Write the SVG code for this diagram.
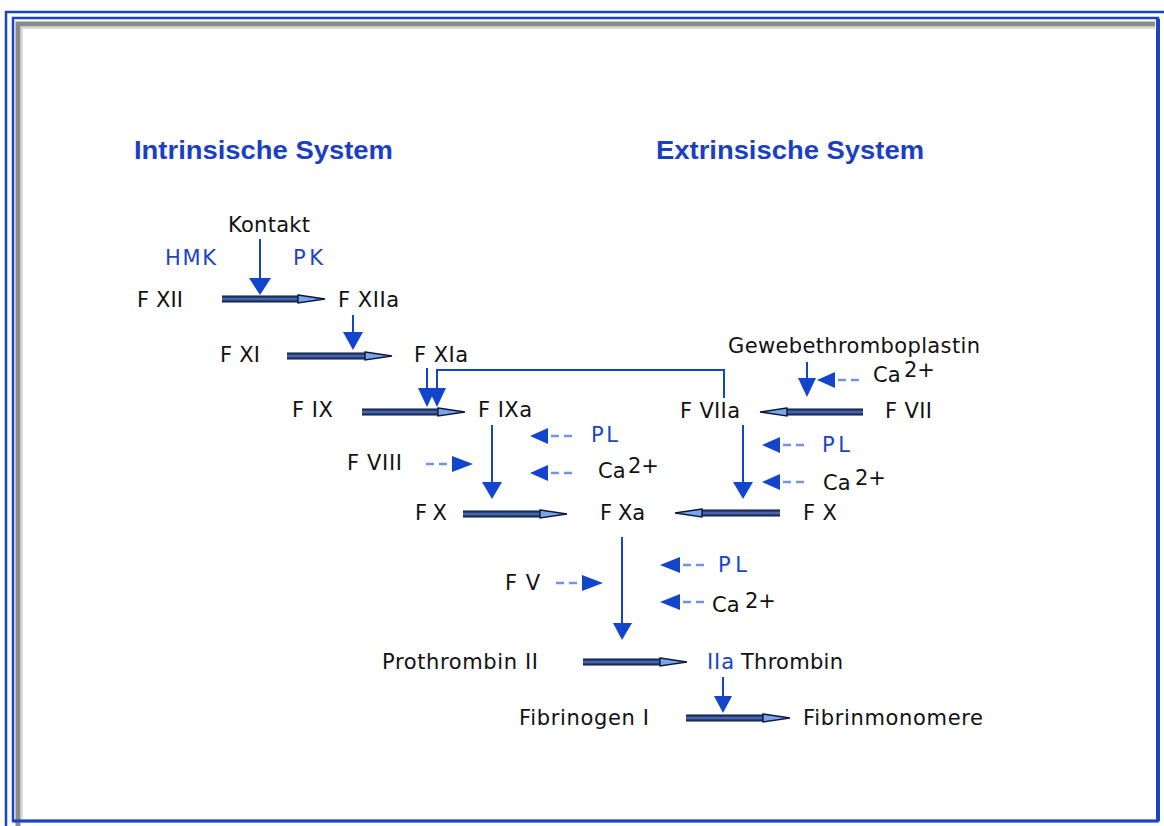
<svg xmlns="http://www.w3.org/2000/svg" width="1164" height="826" viewBox="0 0 1164 826">
<style>
.t{font-family:"DejaVu Sans",Verdana,sans-serif;font-size:21px;fill:#111;}
.b{fill:#1a44c8;}
.title{font-family:"Liberation Sans",Arial,sans-serif;font-size:25px;font-weight:bold;fill:#1a3fc4;}
.ln{stroke:#1244cc;stroke-width:2;fill:none;}
.hd{fill:#1244cc;}
.ds{stroke:#7394e4;stroke-width:2.5;stroke-dasharray:8 5;fill:none;}
.sh{fill:url(#shaft);}
.ah{fill:#79a6ea;stroke:#0c1838;stroke-width:1.4;}
</style>
<defs>
<linearGradient id="shaft" x1="0" y1="0" x2="0" y2="1">
<stop offset="0" stop-color="#0a1430"/>
<stop offset="0.3" stop-color="#2a4584"/>
<stop offset="0.5" stop-color="#5676bc"/>
<stop offset="0.7" stop-color="#2a4584"/>
<stop offset="1" stop-color="#0a1430"/>
</linearGradient>
</defs>
<rect width="1164" height="826" fill="#fff"/>
<g id="frame" fill="none">
<path d="M6,826 V12 H1164" stroke="#1a44c8" stroke-width="2.5"/>
<path d="M13,821 V18 H1158 V821 Z" stroke="#1a44c8" stroke-width="2.5"/>
<path d="M1158,19 V821" stroke="#1a44c8" stroke-width="4"/>
<path d="M18,826 V24 H1155" stroke="#8a8a8a" stroke-width="5"/>
<path d="M22,822 V28 H1155" stroke="#cfcfcf" stroke-width="1.5"/>
<path d="M13,821 H1158" stroke="#1a44c8" stroke-width="3"/>
</g>
<g id="titles">
<text class="title" x="134" y="159" textLength="259" lengthAdjust="spacingAndGlyphs">Intrinsische System</text>
<text class="title" x="656" y="159" textLength="268" lengthAdjust="spacingAndGlyphs">Extrinsische System</text>
</g>
<g id="connectors">
<rect class="sh" x="222" y="295.5" width="78" height="7"/><polygon class="ah" points="298,295 325,299 298,303"/>
<rect class="sh" x="287" y="352.5" width="78" height="7"/><polygon class="ah" points="365,352 392,356 365,360"/>
<rect class="sh" x="362" y="408.5" width="78" height="7"/><polygon class="ah" points="438,408 465,412 438,416"/>
<rect class="sh" x="785" y="408.5" width="78" height="7"/><polygon class="ah" points="787,408 760,412 787,416"/>
<rect class="sh" x="463" y="510.5" width="79" height="7"/><polygon class="ah" points="540,510 567,514 540,518"/>
<rect class="sh" x="700" y="509.5" width="80" height="7"/><polygon class="ah" points="702,509 675,513 702,517"/>
<rect class="sh" x="583" y="658.5" width="79" height="7"/><polygon class="ah" points="660,658 687,662 660,666"/>
<rect class="sh" x="686" y="714.5" width="79" height="7"/><polygon class="ah" points="763,714 790,718 763,722"/>
<line class="ln" x1="260" y1="239" x2="260" y2="280"/><polygon class="hd" points="249,278 271,278 260,295"/>
<line class="ln" x1="353" y1="315" x2="353" y2="334"/><polygon class="hd" points="343,332 363,332 353,350"/>
<line class="ln" x1="427" y1="368" x2="427" y2="390"/><polygon class="hd" points="418,388 436,388 427,407"/>
<path class="ln" d="M724,398 V370 H437 V390"/><polygon class="hd" points="428,388 446,388 437,407"/>
<line class="ln" x1="492" y1="425" x2="492" y2="484"/><polygon class="hd" points="482,482 502,482 492,499"/>
<line class="ln" x1="807" y1="362" x2="807" y2="380"/><polygon class="hd" points="798,378 816,378 807,397"/>
<line class="ln" x1="743" y1="425" x2="743" y2="484"/><polygon class="hd" points="733,482 753,482 743,499"/>
<line class="ln" x1="622" y1="537" x2="622" y2="625"/><polygon class="hd" points="613,623 632,623 622,640"/>
<line class="ln" x1="723" y1="677" x2="723" y2="698"/><polygon class="hd" points="714,696 732,696 723,713"/>
<line class="ds" x1="838" y1="380" x2="864" y2="380"/><polygon class="hd" points="835,372 817,380 835,388"/>
<line class="ds" x1="551" y1="436" x2="577" y2="436"/><polygon class="hd" points="548,428 530,436 548,444"/>
<line class="ds" x1="551" y1="473" x2="577" y2="473"/><polygon class="hd" points="548,465 530,473 548,481"/>
<line class="ds" x1="783" y1="445" x2="809" y2="445"/><polygon class="hd" points="780,437 762,445 780,453"/>
<line class="ds" x1="783" y1="482" x2="809" y2="482"/><polygon class="hd" points="780,474 762,482 780,490"/>
<line class="ds" x1="683" y1="565" x2="709" y2="565"/><polygon class="hd" points="680,557 660,565 680,573"/>
<line class="ds" x1="683" y1="602" x2="709" y2="602"/><polygon class="hd" points="680,594 660,602 680,610"/>
<line class="ds" x1="426" y1="464" x2="452" y2="464"/><polygon class="hd" points="452,456 473,464 452,472"/>
<line class="ds" x1="556" y1="583" x2="582" y2="583"/><polygon class="hd" points="582,575 603,583 582,591"/>
</g>
<g id="kontakt"><text class="t" x="228" y="232" textLength="82">Kontakt</text></g>
<g id="hmk"><text class="t b" x="165" y="265" textLength="51">HMK</text></g>
<g id="pk"><text class="t b" x="293" y="265" textLength="30">PK</text></g>
<g id="fxii"><text class="t" x="137" y="307" textLength="46">F XII</text></g>
<g id="fxiia"><text class="t" x="338" y="307" textLength="61">F XIIa</text></g>
<g id="fxi"><text class="t" x="220" y="362" textLength="40">F XI</text></g>
<g id="fxia"><text class="t" x="414" y="362" textLength="54">F XIa</text></g>
<g id="gewebe"><text class="t" x="728" y="353" textLength="252">Gewebethromboplastin</text></g>
<g id="ca1"><text class="t" x="873" y="382">Ca<tspan x="904" y="377">2+</tspan></text></g>
<g id="fix"><text class="t" x="292" y="417" textLength="41">F IX</text></g>
<g id="fixa"><text class="t" x="478" y="417" textLength="54">F IXa</text></g>
<g id="fviia"><text class="t" x="680" y="418" textLength="60">F VIIa</text></g>
<g id="fvii"><text class="t" x="885" y="418" textLength="47">F VII</text></g>
<g id="pl1"><text class="t b" x="591" y="442" textLength="27">PL</text></g>
<g id="fviii"><text class="t" x="347" y="470" textLength="55">F VIII</text></g>
<g id="ca2"><text class="t" x="598" y="478">Ca<tspan x="628" y="473">2+</tspan></text></g>
<g id="pl2"><text class="t b" x="822" y="452" textLength="28">PL</text></g>
<g id="ca3"><text class="t" x="823" y="490">Ca<tspan x="855" y="485">2+</tspan></text></g>
<g id="fx1"><text class="t" x="415" y="520" textLength="32">F X</text></g>
<g id="fxa"><text class="t" x="600" y="520" textLength="45">F Xa</text></g>
<g id="fx2"><text class="t" x="803" y="520" textLength="34">F X</text></g>
<g id="pl3"><text class="t b" x="718" y="572" textLength="29">PL</text></g>
<g id="fv"><text class="t" x="505" y="590" textLength="35">F V</text></g>
<g id="ca4"><text class="t" x="712" y="612">Ca<tspan x="745" y="608">2+</tspan></text></g>
<g id="prothrombin"><text class="t" x="382" y="669" textLength="156">Prothrombin II</text></g>
<g id="thrombin"><text class="t b" x="707" y="669" textLength="27">IIa</text><text class="t" x="741" y="669" textLength="102">Thrombin</text></g>
<g id="fibrinogen"><text class="t" x="519" y="725" textLength="130">Fibrinogen I</text></g>
<g id="fibrinmonomere"><text class="t" x="803" y="725" textLength="180">Fibrinmonomere</text></g>
</svg>
